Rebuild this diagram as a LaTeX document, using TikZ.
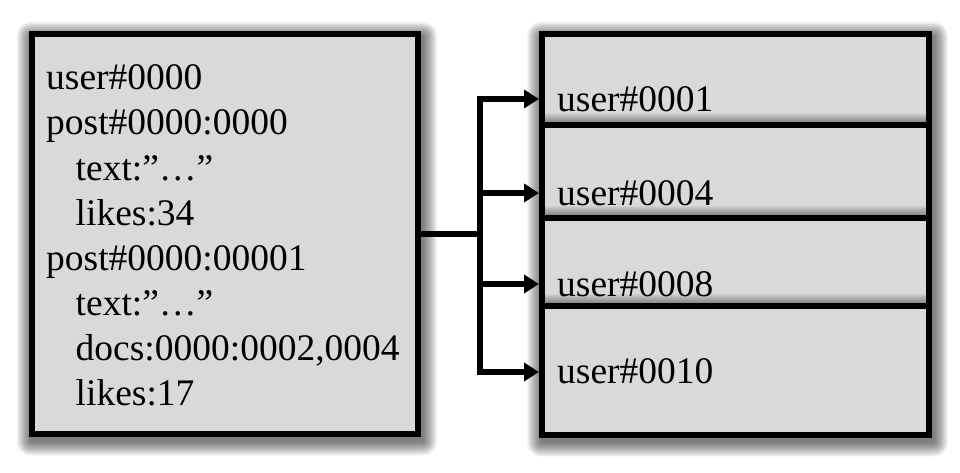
\documentclass[tikz,border=0pt]{standalone}
\usepackage{fontspec}
\setmainfont{Liberation Serif}
\usetikzlibrary{arrows.meta}
\definecolor{boxgray}{HTML}{D9D9D9}
% soft shadow: outer x1,y1 (top-left) x2,y2 (bottom-right), y downward
\newcommand\softshadow[4]{%
  \foreach \i in {0,...,14}{%
    \fill[black,opacity=0.042,rounded corners=\i pt]
      ({#1-\i+2},{#2-\i+5}) rectangle ({#3+\i+2},{#4+\i+5});}}
\begin{document}
\begin{tikzpicture}[x=1pt,y=-1pt,
  box/.style={draw=black, line width=6pt, fill=boxgray, rectangle, inner sep=0pt},
  txt/.style={anchor=base west, inner sep=0pt, font=\fontsize{37.5}{45}\selectfont},
  arr/.style={line width=6pt, -{Triangle[length=15pt,width=18pt]}}]
\useasboundingbox[fill=white] (0,0) rectangle (960,473);

% left box
\softshadow{28.5}{31}{421}{436.5}
\node[box, minimum width=386.5pt, minimum height=399.5pt] (L) at (224.75,233.75) {};
\node[txt] (l1) at (46,90) {user\#0000};
\node[txt] (l2) at (46,135) {post\#0000:0000};
\node[txt] (l3) at (75.5,180) {text:”…”};
\node[txt] (l4) at (75.5,225) {likes:34};
\node[txt] (l5) at (46,270) {post\#0000:00001};
\node[txt] (l6) at (75.5,315) {text:”…”};
\node[txt] (l7) at (75.5,360) {docs:0000:0002,0004};
\node[txt] (l8) at (75.5,405) {likes:17};

% right boxes (one outer shadow for the stack, inner shadows clipped)
\softshadow{539}{31}{932}{437.5}
\node[box, minimum width=387pt, minimum height=91.5pt] (b1) at (735.5,79.75) {};
\begin{scope}
  \clip (545,37) rectangle (926,125);
  \softshadow{539}{122.5}{932}{221}
\end{scope}
\node[box, minimum width=387pt, minimum height=92.5pt] (b2) at (735.5,171.75) {};
\begin{scope}
  \clip (545,128) rectangle (926,218);
  \softshadow{539}{215}{932}{309}
\end{scope}
\node[box, minimum width=387pt, minimum height=88pt] (b3) at (735.5,262) {};
\begin{scope}
  \clip (545,221) rectangle (926,306);
  \softshadow{539}{303}{932}{437.5}
\end{scope}
\node[box, minimum width=387pt, minimum height=128.5pt] (b4) at (735.5,370.25) {};
\node[txt] (r1) at (557,112) {user\#0001};
\node[txt] (r2) at (557,205) {user\#0004};
\node[txt] (r3) at (557,296) {user\#0008};
\node[txt] (r4) at (557,383) {user\#0010};

% connectors
\coordinate (t1) at (480,99);
\coordinate (t2) at (480,193);
\coordinate (t3) at (480,284);
\coordinate (t4) at (480,372);
\draw[line width=6pt] (L.east) -- (L.east -| t1);
\draw[arr] (t4) -- (t1) -- (t1 -| b1.west);
\draw[arr] (t1) -- (t4) -- (t4 -| b4.west);
\draw[arr] (t2) -- (t2 -| b2.west);
\draw[arr] (t3) -- (t3 -| b3.west);
\end{tikzpicture}
\end{document}
